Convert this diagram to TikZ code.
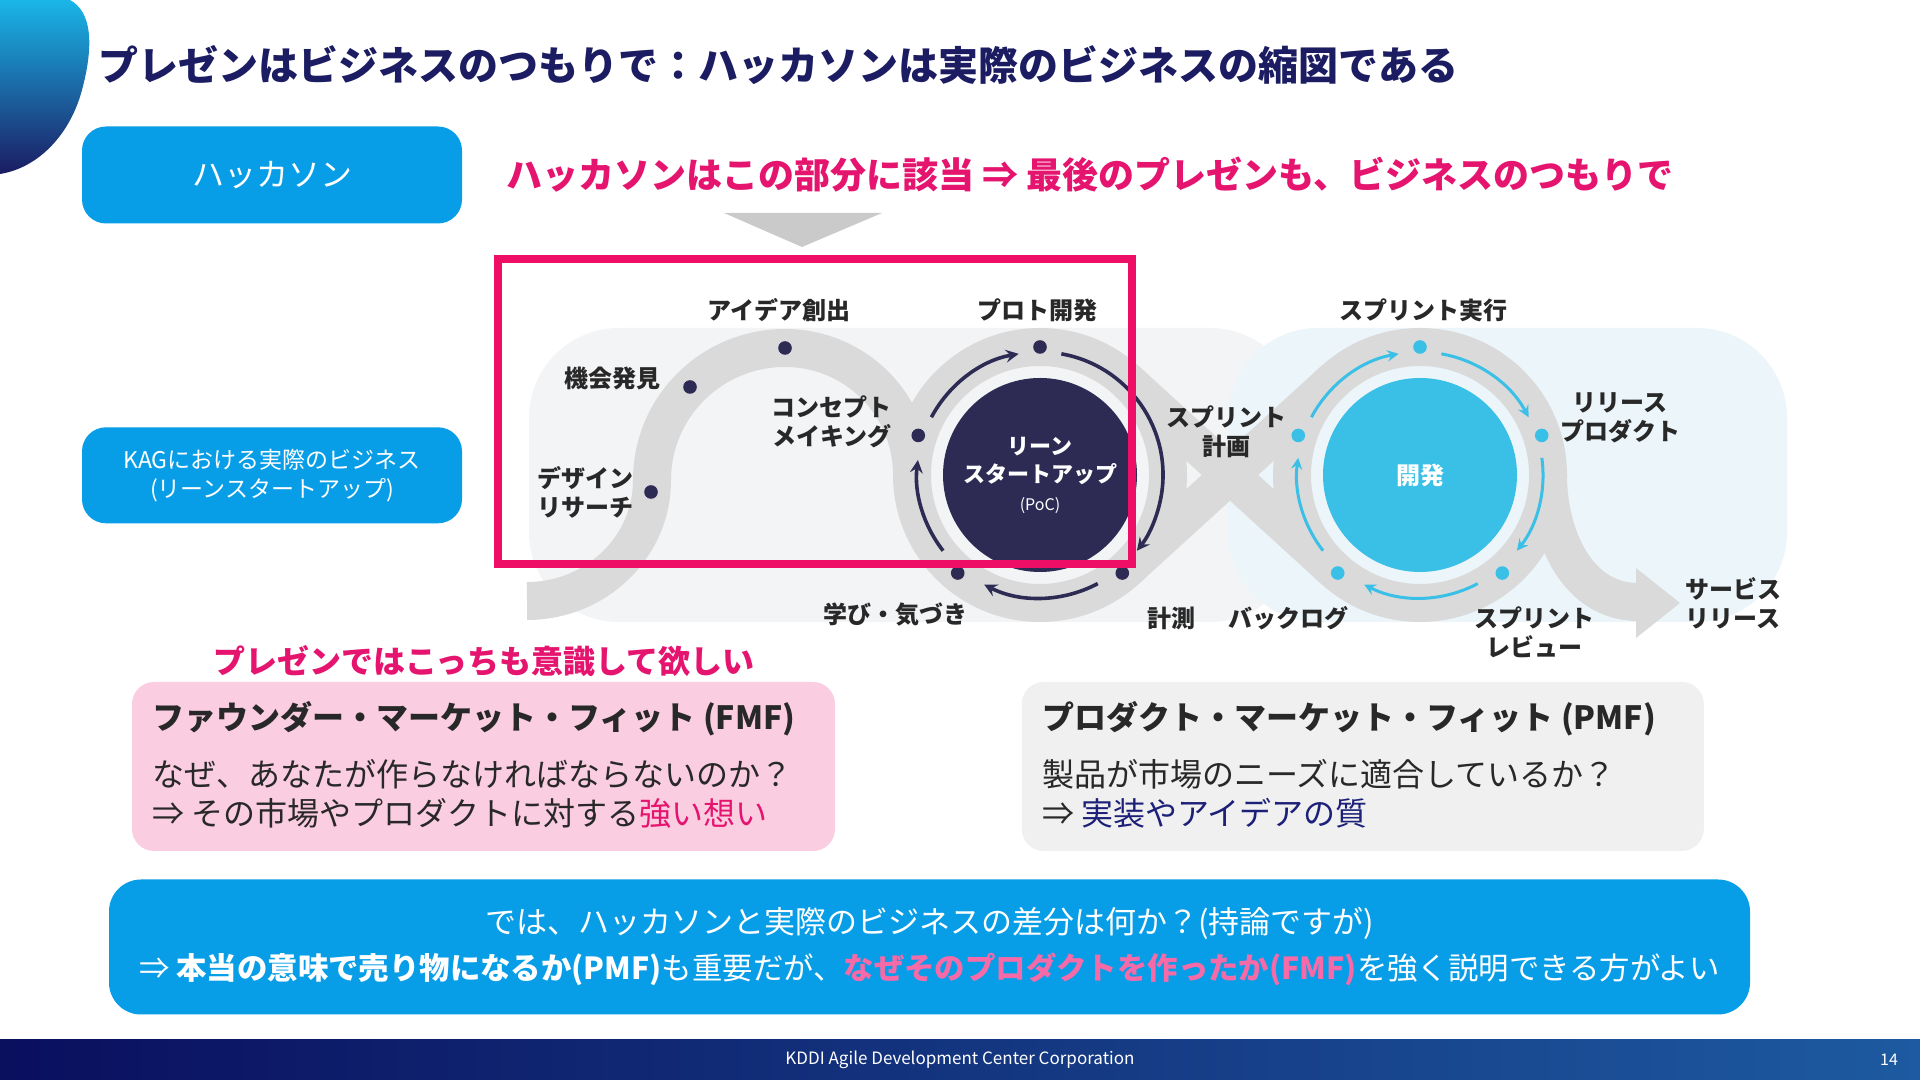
\documentclass[tikz,border=0pt]{standalone}
\usepackage{fontspec}
\setmainfont{Noto Sans CJK JP}
\usepackage{xcolor}
\usepackage{tikz}
\usetikzlibrary{shapes.geometric, arrows, positioning}

\definecolor{titlenavy}{RGB}{27,28,98}
\definecolor{blobcyan}{RGB}{26,182,232}
\definecolor{kagblue}{RGB}{8,158,231}
\definecolor{hotpink}{RGB}{229,21,111}
\definecolor{framepink}{RGB}{238,14,101}
\definecolor{bandgray}{RGB}{218,218,218}
\definecolor{tipgray}{RGB}{202,202,202}
\definecolor{leftbg}{RGB}{243,244,246}
\definecolor{rightbg}{RGB}{236,246,250}
\definecolor{leannavy}{RGB}{45,43,83}
\definecolor{devcyan}{RGB}{58,192,230}
\definecolor{fmfpink}{RGB}{251,205,224}
\definecolor{pmfgray}{RGB}{240,240,240}
\definecolor{softpink}{RGB}{246,106,168}
\definecolor{textdark}{RGB}{40,40,40}
\definecolor{qualnavy}{RGB}{28,32,120}
\definecolor{footnavy}{RGB}{10,15,94}
\definecolor{footblue}{RGB}{29,90,160}

\begin{document}
\begin{tikzpicture}[x=0.5pt, y=0.5pt, >=stealth, every node/.style={inner sep=1pt},
  lbl/.style={font=\fontsize{12pt}{14.5pt}\selectfont\bfseries, text=textdark, align=center},
  leandot/.style={circle, fill=leannavy, inner sep=0pt, minimum size=6.8pt},
  devdot/.style={circle, fill=devcyan, inner sep=0pt, minimum size=6.8pt},
  band/.style={draw=bandgray, line width=19pt},
  leanarrow/.style={->, draw=leannavy, line width=1.8pt},
  devarrow/.style={->, draw=devcyan, line width=1.5pt},
  sidebox/.style={fill=kagblue, rounded corners=12pt, text=white, minimum width=190pt, align=center},
  fitbox/.style={rounded corners=11pt, minimum height=84.5pt},
  fittext/.style={anchor=west, font=\fontsize{16pt}{19.5pt}\selectfont, text=textdark, align=left}]
  \useasboundingbox (0,0) rectangle (1920,1080);
  \fill[white] (0,0) rectangle (1920,1080);

  % corner blob and title
  \shade[top color=blobcyan, bottom color=titlenavy] (0,1080) -- (70,1080) .. controls (92,1068) and (94,1035) .. (82,990) .. controls (70,945) and (38,912) .. (0,906) -- cycle;
  \node (title) [anchor=west, font=\fontsize{20pt}{24pt}\selectfont\bfseries, text=titlenavy] at (96,1015)
    {プレゼンはビジネスのつもりで：ハッカソンは実際のビジネスの縮図である};

  % left boxes
  \node (hackbox) [sidebox, minimum height=48.5pt, font=\fontsize{16pt}{19pt}\selectfont] at (272,905) {ハッカソン};
  \node (kagbox) [sidebox, minimum height=48pt, font=\fontsize{11.5pt}{14.5pt}\selectfont, below=101.5pt of hackbox]
    {KAGにおける実際のビジネス\\(リーンスタートアップ)};

  \node (headline) [anchor=west, font=\fontsize{18pt}{21pt}\selectfont\bfseries, text=hotpink] at (504,905)
    {ハッカソンはこの部分に該当 ⇒ 最後のプレゼンも、ビジネスのつもりで};
  \fill[tipgray] (724,867) -- (882,867) -- (802,833) -- cycle;

  % background areas
  \fill[leftbg, rounded corners=45pt] (529,458) rectangle (1300,752);
  \fill[rightbg, rounded corners=45pt] (1228,458) rectangle (1787,752);

  % track
  \coordinate (c1) at (1040,605);
  \coordinate (c2) at (1420,605);
  \draw[band] (527,479) to[out=0,in=-90] (652,600) to[out=90,in=180] (785,732) to[out=0,in=90] (912,605);
  \draw[band] (c1) circle (128);
  \draw[band] (c2) circle (128);
  \draw[band] ([shift={(-47.6:128)}]c1) -- ([shift={(132.4:128)}]c2);
  \draw[band] ([shift={(47.6:128)}]c1) -- ([shift={(227.6:128)}]c2);
  \draw[band] ([shift={(0:128)}]c2) to[out=-90,in=180] (1638,478);
  \fill[bandgray] (1636,512) -- (1680,477) -- (1636,442) -- cycle;

  % circles
  \node (leancircle) [circle, fill=leannavy, minimum size=97pt, text=white, align=center,
    font=\fontsize{11pt}{14pt}\selectfont\bfseries] at (c1)
    {リーン\\スタートアップ\\{\fontsize{8pt}{12pt}\selectfont\mdseries (PoC)}};
  \node (devcircle) [circle, fill=devcyan, minimum size=97pt, text=white,
    font=\fontsize{12pt}{14pt}\selectfont\bfseries] at (c2) {開発};

  % cycle arrows
  \draw[leanarrow] ([shift={(152:123)}]c1) arc[start angle=152, end angle=100, radius=123];
  \draw[leanarrow] ([shift={(80:123)}]c1) arc[start angle=80, end angle=-38, radius=123];
  \draw[leanarrow] ([shift={(-62:123)}]c1) arc[start angle=-62, end angle=-117, radius=123];
  \draw[leanarrow] ([shift={(218:123)}]c1) arc[start angle=218, end angle=173, radius=123];
  \draw[devarrow] ([shift={(152:123)}]c2) arc[start angle=152, end angle=100, radius=123];
  \draw[devarrow] ([shift={(80:123)}]c2) arc[start angle=80, end angle=28, radius=123];
  \draw[devarrow] ([shift={(8:123)}]c2) arc[start angle=8, end angle=-38, radius=123];
  \draw[devarrow] ([shift={(-62:123)}]c2) arc[start angle=-62, end angle=-117, radius=123];
  \draw[devarrow] ([shift={(218:123)}]c2) arc[start angle=218, end angle=172, radius=123];

  % dots
  \node (designdot) [leandot] at (651,588) {};
  \node (kikaidot) [leandot] at (690,693) {};
  \node (ideadot) [leandot] at (785,732) {};
  \node (conceptdot) [leandot] at ([shift={(162:128)}]c1) {};
  \node (protodot) [leandot] at ([shift={(90:128)}]c1) {};
  \node (keisokudot) [leandot] at ([shift={(-50:128)}]c1) {};
  \node (manabidot) [leandot] at ([shift={(-130:128)}]c1) {};
  \node (keikakudot) [devdot] at ([shift={(162:128)}]c2) {};
  \node (jikkodot) [devdot] at ([shift={(90:128)}]c2) {};
  \node (releasedot) [devdot] at ([shift={(18:128)}]c2) {};
  \node (reviewdot) [devdot] at ([shift={(-50:128)}]c2) {};
  \node (backlogdot) [devdot] at ([shift={(-130:128)}]c2) {};

  % step labels
  \node (idealbl) [lbl] at (779,770) {アイデア創出};
  \node (protolbl) [lbl] at (1037,770) {プロト開発};
  \node (kikailbl) [lbl] at (612,702) {機会発見};
  \node (conceptlbl) [lbl, anchor=east, align=right] at (894,658) {コンセプト\\メイキング};
  \node (designlbl) [lbl, anchor=west, align=left] at (535,588) {デザイン\\リサーチ};
  \node (manabilbl) [lbl] at (895,465) {学び・気づき};
  \node (keisokulbl) [lbl] at (1171,462) {計測};
  \node (keikakulbl) [lbl] at (1226,648) {スプリント\\計画};
  \node (jikkolbl) [lbl] at (1423,770) {スプリント実行};
  \node (releaselbl) [lbl] at (1620,662) {リリース\\プロダクト};
  \node (reviewlbl) [lbl] at (1534,448) {スプリント\\レビュー};
  \node (backloglbl) [lbl] at (1288,462) {バックログ};
  \node (servicelbl) [lbl] at (1733,477) {サービス\\リリース};

  \node (hackframe) [draw=framepink, line width=4pt, minimum width=317pt, minimum height=152.5pt] at (815,668.5) {};

  % fit boxes
  \node (note) [font=\fontsize{16pt}{19pt}\selectfont\bfseries, text=hotpink] at (484,419) {プレゼンではこっちも意識して欲しい};
  \node (fmfbox) [fitbox, fill=fmfpink, minimum width=351.5pt] at (483.5,313.5) {};
  \node (pmfbox) [fitbox, fill=pmfgray, minimum width=341pt, right=93pt of fmfbox] {};
  \node (fmftitle) [fittext, font=\fontsize{16pt}{19pt}\selectfont\bfseries] at (150,361) {ファウンダー・マーケット・フィット (FMF)};
  \node (fmfbody) [fittext] at (150,286.5) {なぜ、あなたが作らなければならないのか？\\⇒ その市場やプロダクトに対する\textcolor{hotpink}{強い想い}};
  \node (pmftitle) [fittext, font=\fontsize{16pt}{19pt}\selectfont\bfseries] at (1040,361) {プロダクト・マーケット・フィット (PMF)};
  \node (pmfbody) [fittext] at (1040,286.5) {製品が市場のニーズに適合しているか？\\⇒ \textcolor{qualnavy}{実装やアイデアの質}};

  \node (gapbox) [fill=kagblue, rounded corners=16pt, minimum width=820.5pt, minimum height=67.5pt, text=white, align=center,
    font=\fontsize{15.5pt}{23pt}\selectfont] at (929.5,133)
    {では、ハッカソンと実際のビジネスの差分は何か？(持論ですが)\\{\fontsize{15.2pt}{23pt}\selectfont ⇒ \textbf{本当の意味で売り物になるか(PMF)}も重要だが、\textcolor{softpink}{\textbf{なぜそのプロダクトを作ったか(FMF)}}を強く説明できる方がよい}};

  % footer
  \shade[left color=footnavy, right color=footblue] (0,0) rectangle (1920,40);
  \node (footer) [text=white, font=\fontsize{8.5pt}{10pt}\selectfont] at (960,20) {KDDI Agile Development Center Corporation};
  \node (pageno) [text=white, font=\fontsize{8pt}{10pt}\selectfont] at (1889,20) {14};
\end{tikzpicture}
\end{document}
